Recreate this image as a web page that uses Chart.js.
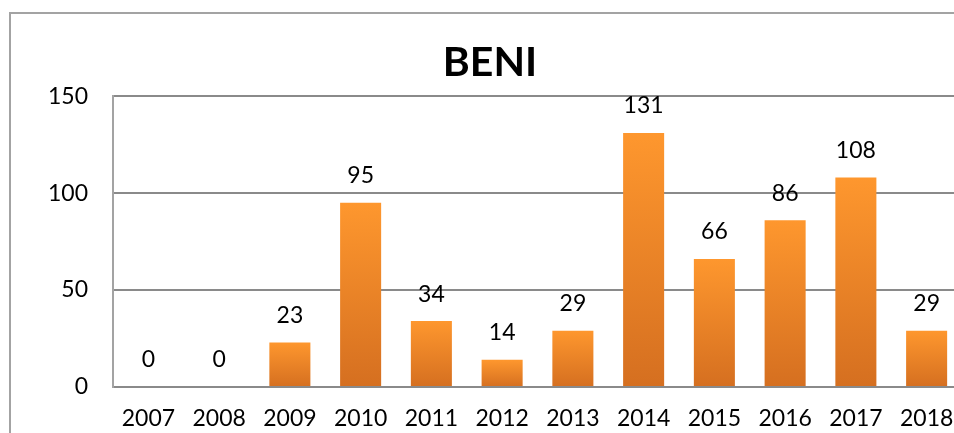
<!DOCTYPE html>
<html lang="en">
<head>
    <meta charset="UTF-8">
    <title>BENI</title>
    <script src="https://cdn.jsdelivr.net/npm/chart.js"></script>
    <style>
        html, body {
            margin: 0;
            padding: 0;
            background: white;
            overflow: hidden;
            width: 954px;
            height: 433px;
        }
        .frame {
            position: absolute;
            left: 9px;
            top: 12px;
            width: 1100px;
            height: 600px;
            border: 2px solid #a3a3a3;
            box-sizing: border-box;
        }
        .chart-box {
            position: absolute;
            left: 0;
            top: 0;
            width: 990px;
            height: 460px;
        }
    </style>
</head>
<body>
    <div class="frame"></div>
    <div class="chart-box"><canvas id="chart"></canvas></div>

    <script>
        const years = ['2007', '2008', '2009', '2010', '2011', '2012', '2013', '2014', '2015', '2016', '2017', '2018'];
        const counts = [0, 0, 23, 95, 34, 14, 29, 131, 66, 86, 108, 29];
        const yTicks = [0, 50, 100, 150];

        const fontFamily = 'Lato, "Open Sans", sans-serif';

        // orange gradient per bar, light at the top, darker at the base
        function barFill(ctx) {
            const chart = ctx.chart;
            if (!chart.chartArea || ctx.raw === undefined) return '#F08A2A';
            const y = chart.scales.y;
            const top = y.getPixelForValue(ctx.raw);
            const base = y.getPixelForValue(0);
            if (base - top < 1) return '#F08A2A';
            const g = chart.ctx.createLinearGradient(0, top, 0, base);
            g.addColorStop(0, '#FE972E');
            g.addColorStop(1, '#D56F20');
            return g;
        }

        const valueLabels = {
            id: 'valueLabels',
            afterDatasetsDraw(chart) {
                const ctx = chart.ctx;
                const meta = chart.getDatasetMeta(0);
                ctx.save();
                ctx.font = '23px ' + fontFamily;
                ctx.fillStyle = '#000';
                ctx.textAlign = 'center';
                ctx.textBaseline = 'middle';
                meta.data.forEach((bar, i) => {
                    ctx.fillText(String(counts[i]), bar.x, bar.y - 27);
                });
                ctx.restore();
            }
        };

        new Chart(document.getElementById('chart'), {
            type: 'bar',
            data: {
                labels: years,
                datasets: [{
                    data: counts,
                    backgroundColor: barFill,
                    borderWidth: 0,
                    categoryPercentage: 1,
                    barPercentage: 0.58
                }]
            },
            options: {
                responsive: true,
                maintainAspectRatio: false,
                animation: false,
                layout: { padding: { left: 18, top: 12, right: 28, bottom: 0 } },
                plugins: {
                    legend: { display: false },
                    tooltip: { enabled: false },
                    title: {
                        display: true,
                        text: 'BENI',
                        color: '#000',
                        font: { family: fontFamily, size: 41, weight: 'bold', lineHeight: 1.2 },
                        padding: { top: 26, bottom: 9 }
                    }
                },
                scales: {
                    x: {
                        grid: { display: false, drawTicks: false },
                        border: { display: true, color: '#8a8a8a', width: 2 },
                        ticks: {
                            color: '#000',
                            font: { family: fontFamily, size: 23 },
                            padding: 18,
                            maxRotation: 0,
                            autoSkip: false
                        },
                        afterFit(scale) { scale.height = 73; }
                    },
                    y: {
                        min: 0,
                        max: 150,
                        afterBuildTicks(scale) { scale.ticks = yTicks.map(v => ({ value: v })); },
                        grid: { color: '#8a8a8a', lineWidth: 2, drawTicks: false },
                        border: { display: true, color: '#a3a3a3', width: 2 },
                        ticks: {
                            color: '#000',
                            font: { family: fontFamily, size: 23 },
                            padding: 25
                        },
                        afterFit(scale) { scale.width = 95; }
                    }
                }
            },
            plugins: [valueLabels]
        });
    </script>
</body>
</html>
